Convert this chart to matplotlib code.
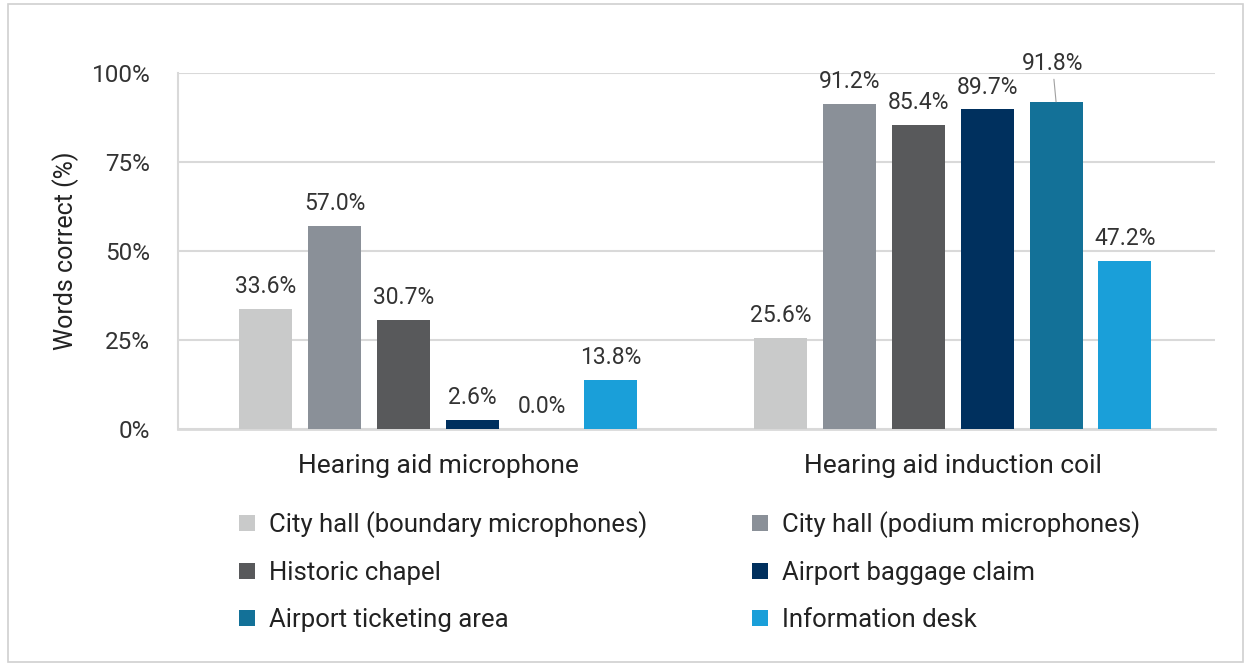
import numpy as np
from matplotlib import pyplot as plt
from matplotlib.patches import Rectangle

plt.rcParams['font.family'] = ['Roboto', 'DejaVu Sans']

groups = ['Hearing aid microphone', 'Hearing aid induction coil']
series = ['City hall (boundary microphones)', 'City hall (podium microphones)',
          'Historic chapel', 'Airport baggage claim',
          'Airport ticketing area', 'Information desk']
values = [[33.6, 25.6], [57.0, 91.2], [30.7, 85.4], [2.6, 89.7], [0.0, 91.8], [13.8, 47.2]]
colors = ['#C9CACA', '#8A9098', '#58595B', '#00305E', '#137198', '#1A9FD9']
yticks = [0, 25, 50, 75, 100]
ytick_labels = ['0%', '25%', '50%', '75%', '100%']

fig = plt.figure(figsize=(12.5, 6.66), dpi=100)
fig.patches.append(Rectangle((0.006, 0.006), 0.988, 0.988, transform=fig.transFigure,
                             fill=False, edgecolor='#D0D0D0', lw=1.2))
ax = fig.add_axes([0.1424, 0.356, 0.8296, 0.535])

x = np.arange(len(groups))
step = 0.134
width = 0.103
handles = []
for i, (name, vals, c) in enumerate(zip(series, values, colors)):
    pos = x + (i - 2.5) * step
    b = ax.bar(pos, vals, width, color=c, label=name, zorder=3)
    handles.append(b)
    for p, v in zip(pos, vals):
        if name == 'Airport ticketing area' and v > 90:
            ax.annotate(f'{v:.1f}%', xy=(p, v), xytext=(p - 0.007, v + 7.5), ha='center',
                        va='bottom', fontsize=16.5, color='#333333',
                        arrowprops=dict(arrowstyle='-', color='#A0A0A0', lw=0.8,
                                        shrinkA=1, shrinkB=0))
        else:
            ax.text(p, v + 3.0, f'{v:.1f}%', ha='center', va='bottom',
                    fontsize=16.5, color='#333333')

ax.set_xlim(-0.506, 1.51)
ax.set_ylim(0, 100)
ax.set_yticks(yticks)
ax.set_yticklabels(ytick_labels, fontsize=17.5, color='#333333')
ax.set_xticks(x)
ax.set_xticklabels(groups, fontsize=19, color='#222222')
ax.tick_params(length=0)
ax.tick_params(axis='y', pad=20)
ax.tick_params(axis='x', pad=18)
ax.set_ylabel('Words correct (%)', fontsize=18, color='#222222', labelpad=9)
ax.grid(axis='y', color='#D9D9D9', lw=1.5, zorder=0)
for s in ['top', 'right']:
    ax.spines[s].set_visible(False)
ax.spines['left'].set_color('#D9D9D9')
ax.spines['left'].set_linewidth(1.5)
ax.spines['bottom'].set_color('#D9D9D9')
ax.spines['bottom'].set_linewidth(2)

# matplotlib fills legend columns first; reorder so entries read row by row
order = [0, 2, 4, 1, 3, 5]
ax.legend([handles[k] for k in order], [series[k] for k in order],
          loc='upper left', bbox_to_anchor=(0.037, -0.166), ncol=2, frameon=False,
          fontsize=18.5, handlelength=0.6, handleheight=0.6, handletextpad=0.55,
          columnspacing=4.08, labelspacing=0.9, labelcolor='#222222')

fig.savefig('out.png', dpi=100)
